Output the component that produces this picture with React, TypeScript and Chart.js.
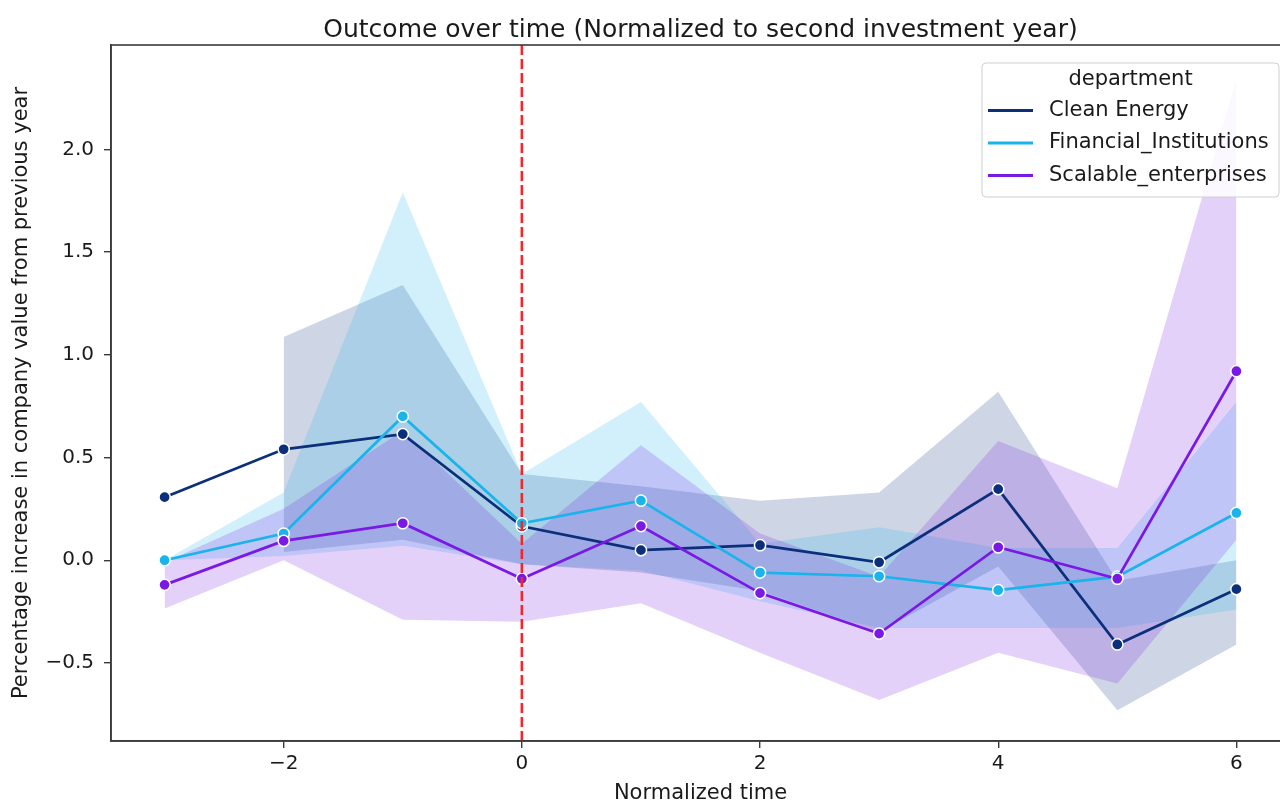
import React, { useEffect, useRef } from "react";
import { Chart, registerables } from "chart.js";

Chart.register(...registerables);

// ---------- data ----------
const timeSteps = [-3, -2, -1, 0, 1, 2, 3, 4, 5, 6];
const seriesNames = ["Clean Energy", "Financial_Institutions", "Scalable_enterprises"];

const cleanEnergy = [0.307, 0.54, 0.614, 0.165, 0.049, 0.073, -0.01, 0.346, -0.41, -0.141];
const cleanEnergyUpper = [null, 1.086, 1.34, 0.42, 0.36, 0.29, 0.33, 0.82, -0.1, 0.0];
const cleanEnergyLower = [null, 0.04, 0.1, -0.02, -0.06, -0.15, -0.35, -0.03, -0.73, -0.41];

const financial = [0.0, 0.13, 0.7, 0.18, 0.29, -0.06, -0.078, -0.146, -0.08, 0.23];
const financialUpper = [0.0, 0.33, 1.79, 0.42, 0.77, 0.08, 0.16, 0.06, 0.06, 0.77];
const financialLower = [0.0, 0.02, 0.07, -0.02, -0.05, -0.2, -0.33, -0.33, -0.33, -0.24];

const scalable = [-0.12, 0.094, 0.18, -0.09, 0.166, -0.16, -0.357, 0.063, -0.09, 0.92];
const scalableUpper = [-0.01, 0.25, 0.63, 0.08, 0.56, 0.13, -0.08, 0.58, 0.35, 2.34];
const scalableLower = [-0.235, 0.0, -0.29, -0.3, -0.21, -0.45, -0.68, -0.45, -0.6, 0.1];

const xTicks = [-2, 0, 2, 4, 6];
const yTicks = [-0.5, 0.0, 0.5, 1.0, 1.5, 2.0];
const referenceX = 0;

const colors = ["#0b2f7a", "#1ab4ea", "#7a18e6"];
const bandColors = ["rgba(11,47,122,0.2)", "rgba(26,180,234,0.2)", "rgba(122,24,230,0.2)"];

const FONT = "DejaVu Sans";
const TEXT = "#1a1a1a";
const LABEL_SIZE = 21;
const TICK_SIZE = 20;
const TITLE_SIZE = 25;

const toPts = (vals: (number | null)[]) =>
  timeSteps
    .map((x, i) => ({ x, y: vals[i] }))
    .filter((p) => p.y !== null) as { x: number; y: number }[];

const fmtMinus = (s: string) => s.replace("-", "\u2212");

export default function App() {
  const ref = useRef<HTMLCanvasElement | null>(null);

  useEffect(() => {
    if (!ref.current) return;
    const mains = [cleanEnergy, financial, scalable];
    const uppers = [cleanEnergyUpper, financialUpper, scalableUpper];
    const lowers = [cleanEnergyLower, financialLower, scalableLower];

    const datasets: any[] = [];
    mains.forEach((vals, i) => {
      datasets.push({
        label: seriesNames[i],
        data: toPts(vals),
        borderColor: colors[i],
        backgroundColor: colors[i],
        borderWidth: 2.7,
        pointRadius: 5.6,
        pointBackgroundColor: colors[i],
        pointBorderColor: "#ffffff",
        pointBorderWidth: 1.5,
        fill: false,
        tension: 0,
        order: 6 - i,
      });
    });
    uppers.forEach((vals, i) => {
      datasets.push({
        label: seriesNames[i] + " upper",
        data: toPts(vals),
        borderColor: "rgba(0,0,0,0)",
        borderWidth: 0,
        pointRadius: 0,
        backgroundColor: bandColors[i],
        fill: "+1",
        tension: 0,
        order: 12 - i,
      });
      datasets.push({
        label: seriesNames[i] + " lower",
        data: toPts(lowers[i]),
        borderColor: "rgba(0,0,0,0)",
        borderWidth: 0,
        pointRadius: 0,
        backgroundColor: "rgba(0,0,0,0)",
        fill: false,
        tension: 0,
        order: 12 - i,
      });
    });

    const overlay = {
      id: "overlay",
      afterDatasetsDraw(chart: any) {
        const { ctx, chartArea, scales } = chart;
        const px = scales.x.getPixelForValue(referenceX);
        ctx.save();
        ctx.strokeStyle = "#f5262b";
        ctx.lineWidth = 2.6;
        ctx.setLineDash([10, 4]);
        ctx.beginPath();
        ctx.moveTo(px, chartArea.top);
        ctx.lineTo(px, chartArea.bottom);
        ctx.stroke();
        ctx.restore();
      },
      afterDraw(chart: any) {
        const { ctx, chartArea } = chart;
        ctx.save();
        ctx.strokeStyle = "#3a3a3a";
        ctx.lineWidth = 1.6;
        ctx.strokeRect(chartArea.left, chartArea.top, chartArea.right - chartArea.left, chartArea.bottom - chartArea.top);
        ctx.fillStyle = TEXT;
        ctx.font = `${TITLE_SIZE}px "${FONT}"`;
        ctx.textAlign = "center";
        ctx.textBaseline = "middle";
        ctx.fillText(
          "Outcome over time (Normalized to second investment year)",
          (chartArea.left + chartArea.right) / 2,
          chartArea.top - 15
        );
        // legend
        const bx = chartArea.right - 308;
        const by = chartArea.top + 18;
        const bw = 297;
        const bh = 134;
        ctx.beginPath();
        (ctx as any).roundRect(bx, by, bw, bh, 4);
        ctx.fillStyle = "rgba(255,255,255,0.85)";
        ctx.fill();
        ctx.strokeStyle = "#cfcfcf";
        ctx.lineWidth = 1;
        ctx.stroke();
        ctx.font = `${LABEL_SIZE}px "${FONT}"`;
        ctx.fillStyle = TEXT;
        ctx.textAlign = "center";
        ctx.fillText("department", bx + bw / 2, by + 17);
        seriesNames.forEach((name, i) => {
          const y = by + 47.5 + i * 32.5;
          ctx.strokeStyle = colors[i];
          ctx.lineWidth = 3;
          ctx.beginPath();
          ctx.moveTo(bx + 6, y);
          ctx.lineTo(bx + 51, y);
          ctx.stroke();
          ctx.fillStyle = TEXT;
          ctx.textAlign = "left";
          ctx.fillText(name, bx + 67, y);
        });
        ctx.restore();
      },
    };

    const chart = new Chart(ref.current, {
      type: "line",
      data: { datasets },
      plugins: [overlay],
      options: {
        responsive: false,
        animation: false,
        devicePixelRatio: 1,
        layout: { padding: { top: 45, right: 10, left: 0, bottom: 0 } },
        plugins: {
          legend: { display: false },
          tooltip: { enabled: false },
          title: { display: false },
        },
        scales: {
          x: {
            type: "linear",
            min: -3.45,
            max: 6.45,
            afterBuildTicks: (s: any) => {
              s.ticks = xTicks.map((v) => ({ value: v }));
            },
            afterFit: (s: any) => {
              s.height = 62;
            },
            grid: { display: true, drawOnChartArea: false, drawTicks: true, tickLength: 7, color: "#3a3a3a", lineWidth: 1.4 },
            border: { display: true, color: "#3a3a3a", width: 1.6 },
            ticks: {
              color: TEXT,
              font: { family: FONT, size: TICK_SIZE },
              padding: 4,
              maxRotation: 0,
              callback: (v: any) => fmtMinus(String(v)),
            },
            title: {
              display: true,
              text: "Normalized time",
              color: TEXT,
              font: { family: FONT, size: LABEL_SIZE },
              padding: { top: 0, bottom: -3 },
            },
          },
          y: {
            type: "linear",
            min: -0.88,
            max: 2.508,
            afterBuildTicks: (s: any) => {
              s.ticks = yTicks.map((v) => ({ value: v }));
            },
            afterFit: (s: any) => {
              s.width = 111;
            },
            grid: { display: true, drawOnChartArea: false, drawTicks: true, tickLength: 7, color: "#3a3a3a", lineWidth: 1.4 },
            border: { display: true, color: "#3a3a3a", width: 1.6 },
            ticks: {
              color: TEXT,
              font: { family: FONT, size: TICK_SIZE },
              padding: 10,
              callback: (v: any) => fmtMinus(Number(v).toFixed(1)),
            },
            title: {
              display: true,
              text: "Percentage increase in company value from previous year",
              color: TEXT,
              font: { family: FONT, size: LABEL_SIZE },
              padding: { top: 9, bottom: 0 },
            },
          },
        },
      } as any,
    });
    return () => chart.destroy();
  }, []);

  return (
    <div style={{ position: "absolute", left: 0, top: 0, width: 1280, height: 803, overflow: "hidden", background: "#fff" }}>
      <canvas ref={ref} width={1300} height={803} style={{ width: 1300, height: 803, display: "block" }} />
    </div>
  );
}
